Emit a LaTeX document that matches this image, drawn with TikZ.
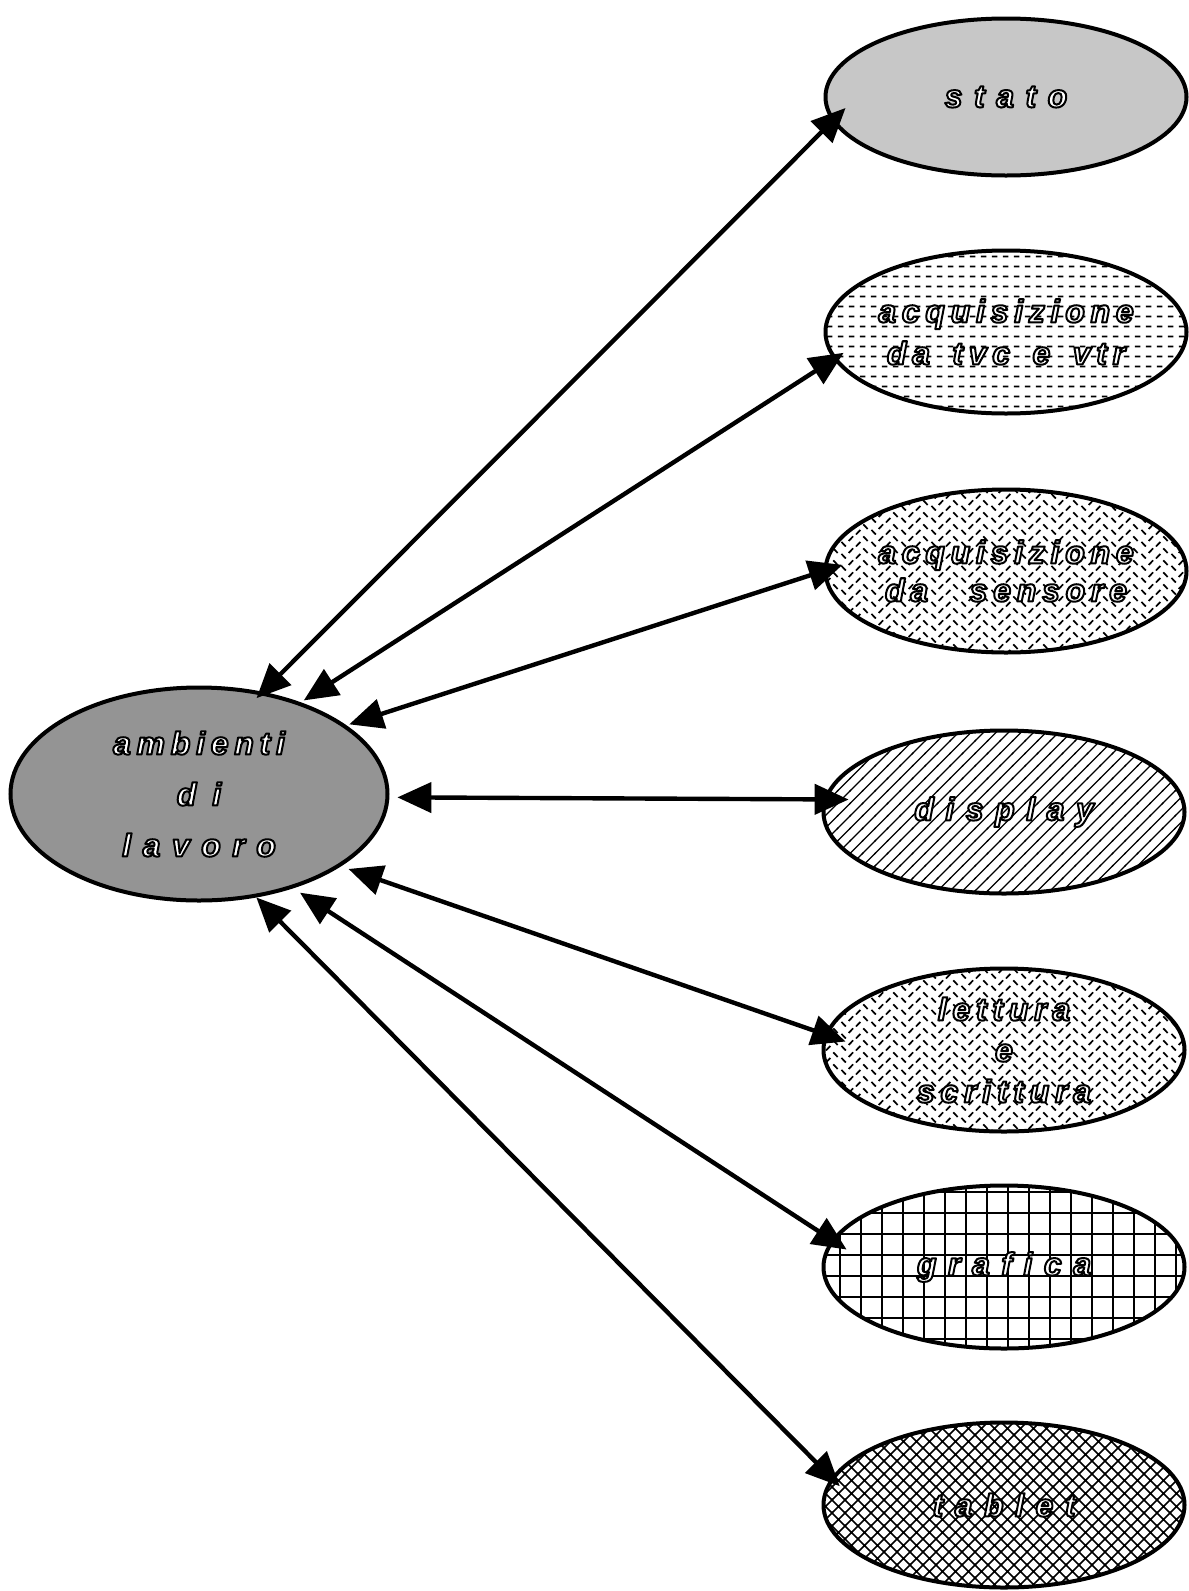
\documentclass[tikz,border=0pt]{standalone}
\usepackage{fontspec}
\usepackage{xcolor}
\usepackage{tikz}
\usetikzlibrary{shapes}
\usetikzlibrary{arrows.meta,arrows}
\usetikzlibrary{patterns}
\tikzset{>=latex}
\newfontfamily\labfont[LetterSpace=18]{Liberation Sans}
\newfontfamily\widefont[LetterSpace=36]{Liberation Sans}
% hollow letters: white fill, black outline
\newcommand{\lbl}[1]{\makebox[0pt]{\special{pdf:literal direct 2 Tr 2 w 1 j 1 g 0 G}#1\special{pdf:literal direct 0 Tr 0 g 0 G 0.4 w 0 j}}}
% fill patterns of the bubbles
\pgfdeclarepatternformonly{dashrows}{\pgfpointorigin}{\pgfpoint{11pt}{10pt}}{\pgfpoint{11pt}{10pt}}{%
  \pgfsetlinewidth{2pt}
  \pgfpathmoveto{\pgfpoint{2pt}{5pt}}\pgfpathlineto{\pgfpoint{8pt}{5pt}}
  \pgfusepath{stroke}}
\pgfdeclarepatternformonly{ticks}{\pgfpointorigin}{\pgfpoint{30pt}{12pt}}{\pgfpoint{30pt}{12pt}}{%
  \pgfsetlinewidth{1.8pt}
  \pgfpathmoveto{\pgfpoint{1.5pt}{5.5pt}}\pgfpathlineto{\pgfpoint{6pt}{0.5pt}}
  \pgfpathmoveto{\pgfpoint{16.5pt}{0.5pt}}\pgfpathlineto{\pgfpoint{21pt}{5.5pt}}
  \pgfpathmoveto{\pgfpoint{9pt}{6.5pt}}\pgfpathlineto{\pgfpoint{13.5pt}{11.5pt}}
  \pgfpathmoveto{\pgfpoint{24pt}{11.5pt}}\pgfpathlineto{\pgfpoint{28.5pt}{6.5pt}}
  \pgfusepath{stroke}}
\pgfdeclarepatternformonly{slantlines}{\pgfpoint{-1pt}{-1pt}}{\pgfpoint{13.5pt}{13.5pt}}{\pgfpoint{12.5pt}{12.5pt}}{%
  \pgfsetlinewidth{1.4pt}
  \pgfpathmoveto{\pgfpoint{-1pt}{-1pt}}\pgfpathlineto{\pgfpoint{13.5pt}{13.5pt}}
  \pgfusepath{stroke}}
\pgfdeclarepatternformonly{squaregrid}{\pgfpoint{-1pt}{-1pt}}{\pgfpoint{22pt}{22pt}}{\pgfpoint{21pt}{21pt}}{%
  \pgfsetlinewidth{2pt}
  \pgfpathmoveto{\pgfpoint{0pt}{-1pt}}\pgfpathlineto{\pgfpoint{0pt}{22pt}}
  \pgfpathmoveto{\pgfpoint{-1pt}{0pt}}\pgfpathlineto{\pgfpoint{22pt}{0pt}}
  \pgfusepath{stroke}}
\pgfdeclarepatternformonly{diamondhatch}{\pgfpoint{-1pt}{-1pt}}{\pgfpoint{14pt}{14pt}}{\pgfpoint{13pt}{13pt}}{%
  \pgfsetlinewidth{1.7pt}
  \pgfpathmoveto{\pgfpoint{-1pt}{-1pt}}\pgfpathlineto{\pgfpoint{14pt}{14pt}}
  \pgfpathmoveto{\pgfpoint{-1pt}{14pt}}\pgfpathlineto{\pgfpoint{14pt}{-1pt}}
  \pgfusepath{stroke}}

\begin{document}
\begin{tikzpicture}[
    x=1pt, y=-1pt,
    bubble/.style={ellipse, draw, line width=4pt, inner sep=0pt,
      minimum width=361pt, minimum height=163pt, align=center,
      font=\labfont\fontsize{32}{40}\selectfont\bfseries\itshape},
    link/.style={line width=4.4pt,
      {Triangle[length=34pt,width=30pt]}-{Triangle[length=34pt,width=30pt]}}
    ]
\useasboundingbox (0,0) rectangle (1189,1591);
%left part
\node[bubble, fill=black!42, minimum width=377pt, minimum height=213pt] (amb) at (199,794)
    {\lbl{ambienti}\\[11pt]\lbl{\widefont d\hspace{0.5em}i}\\[11pt]\lbl{\widefont lavoro}};
%right part
\node[bubble, fill=black!22, minimum height=157pt] (stato) at (1006,97) {\lbl{\widefont stato}};
\node[bubble, pattern=dashrows] (tvc) at (1006,332)
    {\lbl{acquisizione}\\[2pt]\lbl{da\hspace{0.7em}tvc\hspace{0.7em}e\hspace{0.7em}vtr}};
\node[bubble, pattern=ticks] (sens) at (1006,571)
    {\lbl{acquisizione}\\[-2pt]\lbl{da\hspace{1.3em}sensore}};
\node[bubble, pattern=slantlines] (disp) at (1004,812) {\lbl{\widefont display}};
\node[bubble, pattern=ticks] (lett) at (1004,1050)
    {\lbl{lettura}\\[1pt]\lbl{e}\\[1pt]\lbl{scrittura}};
\node[bubble, pattern=squaregrid] (graf) at (1004,1267) {\lbl{\widefont grafica}};
\node[bubble, pattern=diamondhatch, minimum height=165pt] (tab) at (1004,1505) {\lbl{\widefont tablet}};
%links
\draw[link, shorten <=-9pt, shorten >=-19pt] (amb.58) -- (stato.188.5);
\draw[link, shorten <=3.5pt, shorten >=-12pt] (amb.42) -- (tvc.189);
\draw[link, shorten <=3pt, shorten >=-20pt] (amb.25) -- (sens.180);
\draw[link, shorten <=8pt, shorten >=-25pt] (amb.-1) -- (disp.176);
\draw[link, shorten <=8pt, shorten >=-22pt] (amb.333) -- (lett.175);
\draw[link, shorten <=8pt, shorten >=-18pt] (amb.315) -- (graf.171.5);
\draw[link, shorten <=0pt, shorten >=-12pt] (amb.299.5) -- (tab.171);
\end{tikzpicture}
\end{document}
